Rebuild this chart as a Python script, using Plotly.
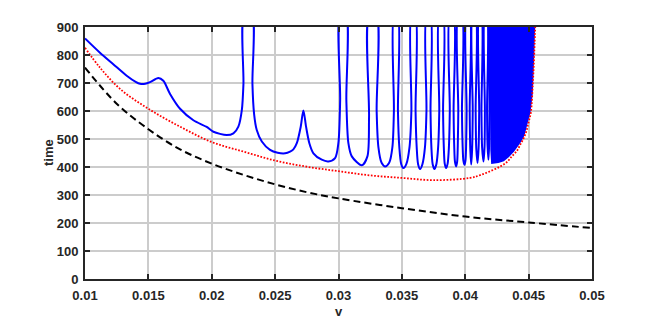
import plotly.graph_objects as go

# ---- data ----
# black dashed curve
black_v = [0.010, 0.0125, 0.015, 0.0175, 0.020, 0.0225, 0.025, 0.0275, 0.030, 0.035, 0.040, 0.045, 0.050]
black_t = [755, 626, 535, 463, 412, 372, 338, 310, 288, 253, 223, 202, 182]

# red dotted curve
red_v = [0.0100, 0.01118, 0.01276, 0.0150, 0.0175, 0.0200, 0.0225, 0.0250, 0.0275, 0.0300,
         0.0325, 0.0350, 0.0375, 0.04039, 0.04118, 0.04197, 0.04276, 0.04329, 0.04368, 0.04408,
         0.04433, 0.0446, 0.04481, 0.04494, 0.04507, 0.04518, 0.04533, 0.04543, 0.04552]
red_t = [826, 755, 679, 608, 544, 489, 455, 423, 401, 385,
         370, 361, 353, 361, 371, 385, 402, 418, 438, 458,
         479, 502, 526, 549, 573, 596, 696, 791, 900]

# blue solid curve (values above 900 are off-chart spike tops)
blue_v = [
    0.0100, 0.01118, 0.01223, 0.01329, 0.01400, 0.01434, 0.01475, 0.01513, 0.01579, 0.01618,
    0.01671, 0.0175, 0.01855, 0.0196, 0.02013, 0.02118, 0.02171, 0.0221, 0.02237, 0.0225,
    0.02258, 0.02316,
    0.02321, 0.02334, 0.02355, 0.02395, 0.0246, 0.0252, 0.02579, 0.02618, 0.02644, 0.02671,
    0.02702, 0.02723, 0.02744, 0.0277, 0.02802, 0.02868, 0.0292, 0.02973, 0.02999, 0.03013,
    0.03015, 0.03058,
    0.03062, 0.03078, 0.03105, 0.03184, 0.03228, 0.03241, 0.03244, 0.03298,
    0.03301, 0.03315, 0.03340, 0.03368, 0.03400, 0.03425, 0.03437, 0.03440, 0.03466,
    0.03469, 0.03480, 0.03495, 0.03512, 0.03535, 0.03560, 0.03575, 0.03578, 0.03605,
    0.03608, 0.03617, 0.03628, 0.03644, 0.03662, 0.03682, 0.03694, 0.03697, 0.03723,
    0.03726, 0.03733, 0.03743, 0.03757, 0.03772, 0.03786, 0.03795, 0.03797, 0.03823,
    0.03825, 0.03831, 0.03838, 0.03849, 0.03861, 0.03871, 0.03878, 0.03880, 0.03906,
    0.03908, 0.03913, 0.03919, 0.03928, 0.03936, 0.03941, 0.03945, 0.03946, 0.03972,
    0.03974, 0.03979, 0.03985, 0.03994, 0.04002, 0.04007, 0.04011, 0.04012, 0.04033,
    0.04035, 0.04040, 0.04047, 0.04054, 0.04059, 0.04060, 0.04080,
    0.04082, 0.04087, 0.04097, 0.04105, 0.04110, 0.04111, 0.04126,
    0.04128, 0.04133, 0.04144, 0.04152, 0.04155, 0.04156, 0.04170,
    0.04172, 0.04176, 0.04183, 0.04188, 0.04191, 0.04192,
]
blue_t = [
    859, 808, 767, 726, 704, 697, 697, 703, 718, 708,
    661, 608, 567, 543, 526, 514, 520, 544, 602, 696,
    950, 950,
    696, 590, 532, 491, 461, 451, 449, 455, 463, 485,
    544, 602, 544, 485, 449, 426, 420, 432, 485, 638,
    950, 950,
    638, 485, 438, 406, 438, 579, 950, 950,
    600, 470, 415, 402, 415, 470, 600, 950, 950,
    600, 470, 410, 396, 410, 470, 600, 950, 950,
    600, 470, 410, 393, 410, 470, 600, 950, 950,
    600, 470, 410, 393, 410, 470, 600, 950, 950,
    600, 470, 412, 396, 412, 470, 600, 950, 950,
    600, 475, 418, 402, 418, 475, 600, 950, 950,
    600, 480, 424, 408, 424, 480, 600, 950, 950,
    600, 460, 409, 460, 600, 950, 950,
    600, 465, 414, 465, 600, 950, 950,
    600, 470, 420, 470, 600, 950, 950,
    600, 475, 426, 475, 600, 950,
]

# dense (solid-looking) oscillation band: lower envelope
band_v = [0.04196, 0.04200, 0.04206, 0.04212, 0.04260, 0.04301, 0.04340, 0.04380, 0.04433,
          0.04460, 0.04486, 0.04507, 0.04525, 0.04533, 0.04538, 0.04543, 0.04545]
band_t = [950, 600, 460, 415, 418, 424, 438, 458, 491,
          514, 555, 596, 661, 732, 814, 896, 950]

x_ticks = [0.01, 0.015, 0.02, 0.025, 0.03, 0.035, 0.04, 0.045, 0.05]
x_ticktext = ["0.01", "0.015", "0.02", "0.025", "0.03", "0.035", "0.04", "0.045", "0.05"]
y_ticks = [0, 100, 200, 300, 400, 500, 600, 700, 800, 900]

fig = go.Figure()
fig.add_trace(go.Scatter(x=band_v + [band_v[0]], y=band_t + [band_t[0]], mode="lines",
                         fill="toself", fillcolor="#0000ff",
                         line=dict(color="#0000ff", width=2), hoverinfo="skip"))
fig.add_trace(go.Scatter(x=blue_v, y=blue_t, mode="lines",
                         line=dict(color="#0000ff", width=2, shape="spline", smoothing=0.8)))
fig.add_trace(go.Scatter(x=red_v, y=red_t, mode="lines",
                         line=dict(color="#ff0000", width=1.8, dash="1.7px,1.6px", shape="spline")))
fig.add_trace(go.Scatter(x=black_v, y=black_t, mode="lines",
                         line=dict(color="#000000", width=2, dash="7px,4px", shape="spline")))

axcol = "#262626"
tickfont = dict(family="Liberation Sans, Arial, sans-serif", size=13, color=axcol, weight="bold")
common = dict(showline=True, linecolor=axcol, linewidth=2, mirror="ticks",
              ticks="inside", ticklen=5, tickwidth=2, tickcolor=axcol,
              showgrid=True, gridcolor="#cccccc", gridwidth=1.8, zeroline=False,
              tickfont=tickfont)

# page body has an 8px offset, margins compensate for it
fig.update_layout(
    width=654, height=319,
    margin=dict(l=77, r=70, t=16, b=48),
    plot_bgcolor="white", paper_bgcolor="white",
    showlegend=False,
    xaxis=dict(range=[0.01, 0.05], tickvals=x_ticks, ticktext=x_ticktext,
               ticklabelstandoff=3, **common),
    yaxis=dict(range=[0, 900], tickvals=y_ticks, ticklabelstandoff=2, **common),
    annotations=[
        dict(text="v", xref="paper", yref="paper", x=0.5, y=0, yshift=-32,
             showarrow=False, xanchor="center", yanchor="middle", font=tickfont),
        dict(text="time", xref="paper", yref="paper", x=0, y=0.5, xshift=-37,
             showarrow=False, xanchor="center", yanchor="middle", textangle=-90,
             font=tickfont),
    ],
)

fig.write_html("out.html")
